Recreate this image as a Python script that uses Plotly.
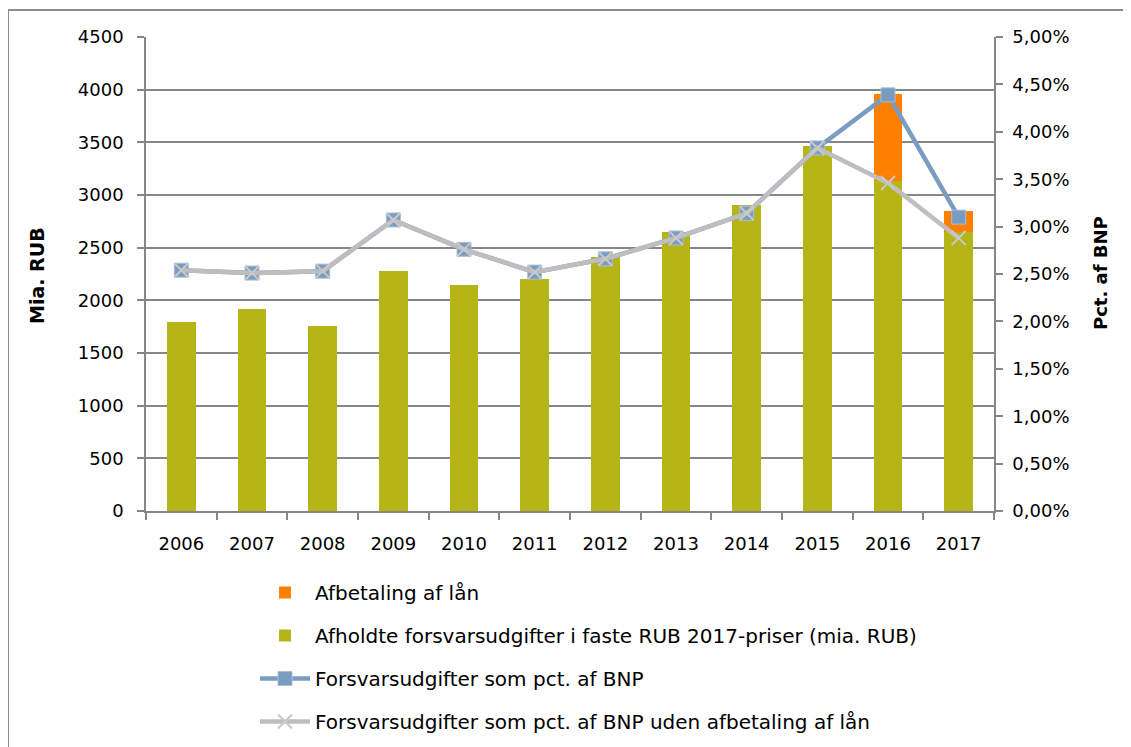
import plotly.graph_objects as go

years = ["2006", "2007", "2008", "2009", "2010", "2011", "2012", "2013", "2014", "2015", "2016", "2017"]
spending = [1790, 1920, 1756, 2282, 2146, 2199, 2408, 2652, 2908, 3462, 3136, 2652]
loan_repayment = [0, 0, 0, 0, 0, 0, 0, 0, 0, 0, 826, 196]
pct_gdp = [0.0254, 0.0251, 0.0253, 0.0307, 0.0276, 0.0252, 0.0266, 0.0288, 0.0314, 0.0383, 0.0439, 0.0310]
pct_gdp_excl = [0.0254, 0.0251, 0.0253, 0.0307, 0.0276, 0.0252, 0.0266, 0.0288, 0.0314, 0.0383, 0.0346, 0.0288]

left_ticks = [0, 500, 1000, 1500, 2000, 2500, 3000, 3500, 4000, 4500]
left_ticktext = ["0", "500", "1000", "1500", "2000", "2500", "3000", "3500", "4000", "4500"]
right_ticks = [0, 0.005, 0.01, 0.015, 0.02, 0.025, 0.03, 0.035, 0.04, 0.045, 0.05]
right_ticktext = ["0,00%", "0,50%", "1,00%", "1,50%", "2,00%", "2,50%", "3,00%", "3,50%", "4,00%", "4,50%", "5,00%"]

FONT = "DejaVu Sans"
GRID = "#868686"

fig = go.Figure()
fig.add_trace(go.Bar(
    x=years, y=spending, name="Afholdte forsvarsudgifter i faste RUB 2017-priser (mia. RUB)",
    marker=dict(color="#B5B517", line=dict(width=0)), width=0.41, legendrank=2, legendgroup="b",
))
fig.add_trace(go.Bar(
    x=years, y=loan_repayment, name="Afbetaling af lån",
    marker=dict(color="#FF7F00", line=dict(width=0)), width=0.41, legendrank=1, legendgroup="a",
))
fig.add_trace(go.Scatter(
    x=years, y=pct_gdp, yaxis="y2", name="Forsvarsudgifter som pct. af BNP",
    mode="lines+markers", line=dict(color="#7A9CC0", width=4.5),
    marker=dict(symbol="square", size=14, color="#7A9CC0", line=dict(color="#A9BFD8", width=1)),
    legendrank=3, legendgroup="c",
))
fig.add_trace(go.Scatter(
    x=years, y=pct_gdp_excl, yaxis="y2", name="Forsvarsudgifter som pct. af BNP uden afbetaling af lån",
    mode="lines+markers", line=dict(color="#BEBEBE", width=4.5),
    marker=dict(symbol="x-thin", size=14, color="#C8C8C8", line=dict(color="#C8C8C8", width=2)),
    legendrank=4, legendgroup="d",
))

# page body has an 8px margin; work in page coordinates and shift
OFF = 8
W, H = 1131 - OFF, 747 - OFF
L, R, T, B = 146 - OFF, 994 - OFF, 37 - OFF, 511 - OFF


def px(x):
    return (x - OFF - L) / (R - L)


def py(y):
    return (B - (y - OFF)) / (B - T)


fig.update_layout(
    width=W, height=H,
    margin=dict(l=L, r=W - R, t=T, b=H - B, autoexpand=False),
    paper_bgcolor="white", plot_bgcolor="white",
    barmode="stack",
    font=dict(family=FONT, size=18, color="black"),
    showlegend=True,
    legend=dict(
        x=px(255), xanchor="left",
        y=py(573), yanchor="top",
        orientation="v", traceorder="grouped", tracegroupgap=14,
        itemwidth=50, font=dict(family=FONT, size=20), bgcolor="rgba(0,0,0,0)",
    ),
    xaxis=dict(
        type="category", range=[-0.5, len(years) - 0.5],
        showline=True, linecolor=GRID, linewidth=1.5,
        ticks="outside", tickson="boundaries", ticklen=7, tickcolor=GRID, tickwidth=1.5,
        showgrid=False, tickfont=dict(size=18), ticklabelstandoff=16,
    ),
    yaxis=dict(
        range=[0, 4500], tickvals=left_ticks, ticktext=left_ticktext,
        showline=True, linecolor=GRID, linewidth=1.5,
        ticks="outside", ticklen=7, tickcolor=GRID, tickwidth=1.5,
        showgrid=True, gridcolor=GRID, gridwidth=1.5, zeroline=False,
        tickfont=dict(size=18), ticklabelstandoff=10,
    ),
    yaxis2=dict(
        range=[0, 0.05], tickvals=right_ticks, ticktext=right_ticktext,
        overlaying="y", side="right",
        showline=True, linecolor=GRID, linewidth=1.5,
        ticks="outside", ticklen=7, tickcolor=GRID, tickwidth=1.5,
        showgrid=False, zeroline=False, tickfont=dict(size=18), ticklabelstandoff=6,
    ),
    annotations=[
        dict(text="<b>Mia. RUB</b>", xref="paper", yref="paper",
             x=px(37), y=py(275), textangle=-90,
             showarrow=False, font=dict(family=FONT, size=19), xanchor="center", yanchor="middle"),
        dict(text="<b>Pct. af BNP</b>", xref="paper", yref="paper",
             x=px(1100), y=py(273), textangle=-90,
             showarrow=False, font=dict(family=FONT, size=18), xanchor="center", yanchor="middle"),
    ],
    shapes=[
        dict(type="rect", xref="paper", yref="paper",
             x0=px(8), x1=px(1400),
             y0=py(900), y1=py(10),
             line=dict(color="#8C8C8C", width=2), fillcolor="rgba(0,0,0,0)", layer="below"),
    ],
)

fig.write_html("out.html")
